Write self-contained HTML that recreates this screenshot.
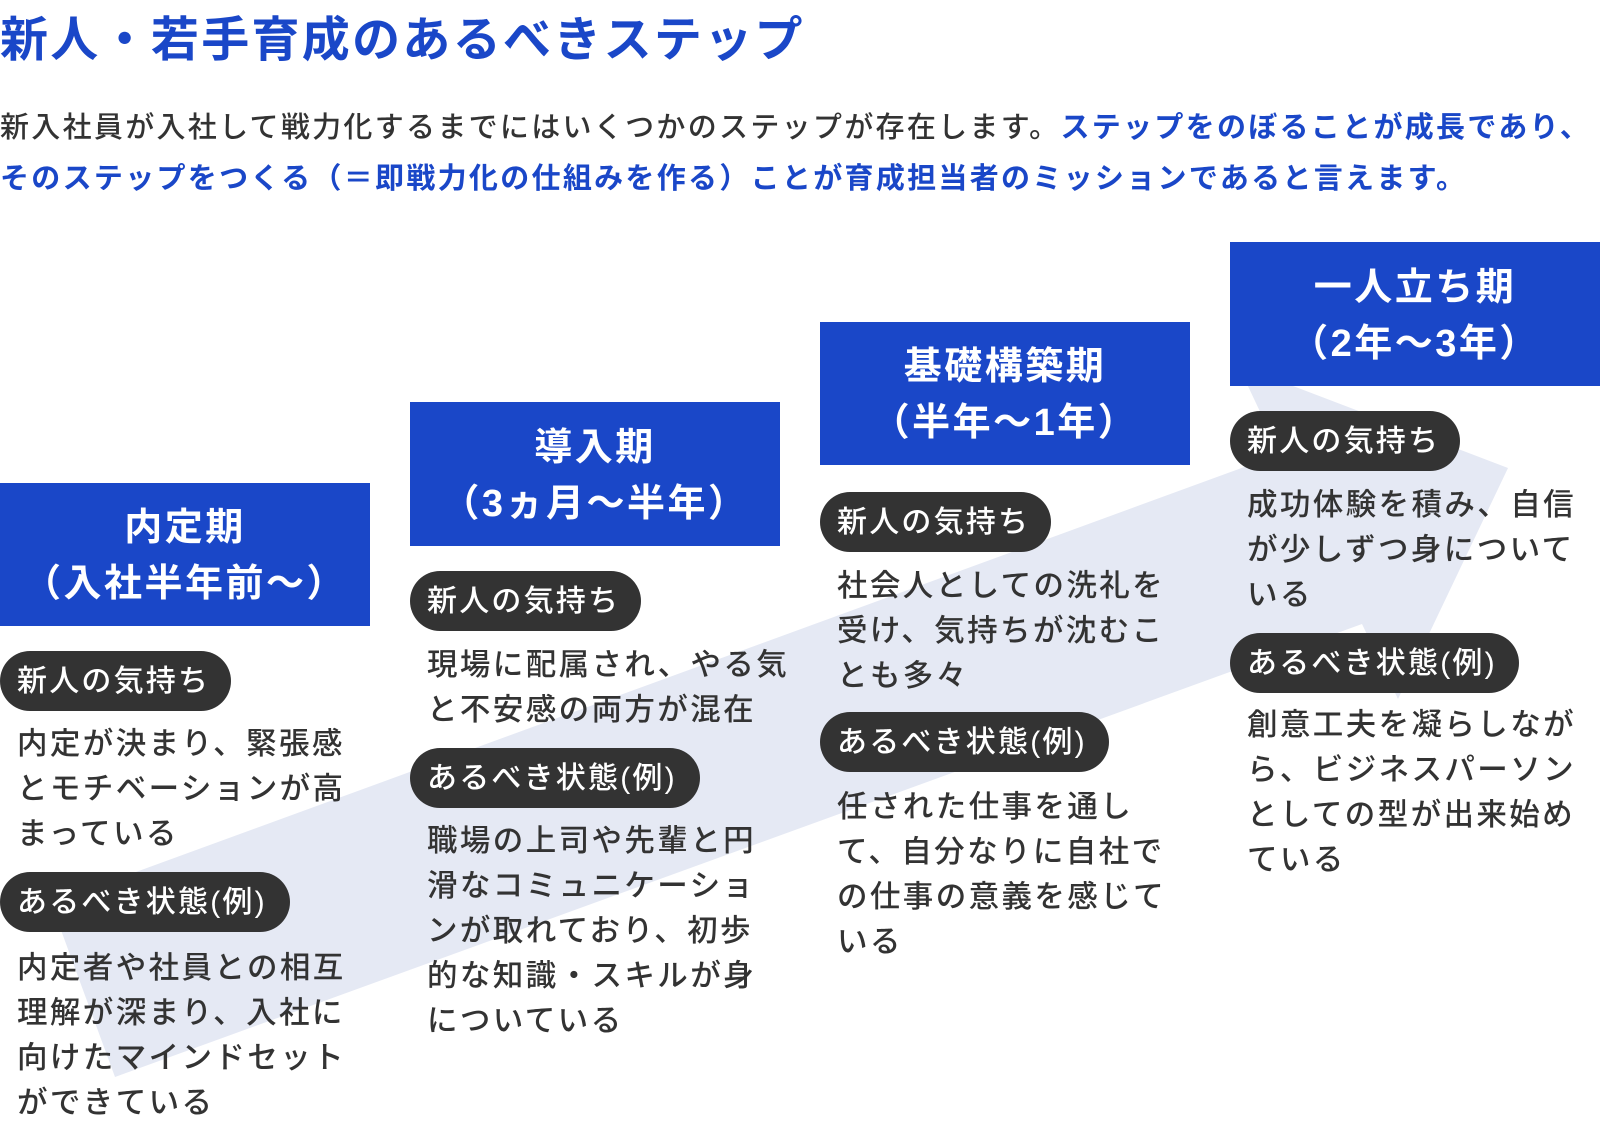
<!DOCTYPE html>
<html><head><meta charset="utf-8"><style>
*{margin:0;padding:0;box-sizing:border-box}
body{width:1600px;height:1121px;background:#fff;position:relative;overflow:hidden;font-family:"Liberation Sans","Noto Sans CJK JP",sans-serif;color:#333}
.a{position:absolute;white-space:nowrap}
h1{position:absolute;left:0;top:11px;font-size:48px;line-height:60px;color:#1a47c8;font-weight:700;letter-spacing:2.3px}
.p{left:0;font-size:29px;line-height:50px;letter-spacing:2.3px;font-weight:500}
.p b{color:#1a47c8;font-weight:700}
.box{position:absolute;background:#1a47c8;color:#fff;font-weight:700;font-size:38px;line-height:56px;text-align:center;display:flex;flex-direction:column;justify-content:center;letter-spacing:2.5px;padding-top:3px}
.pill{position:absolute;height:60px;border-radius:30px;background:#333;color:#fff;font-size:30px;line-height:62px;padding-left:17px;letter-spacing:2.2px;font-weight:500}
.t{position:absolute;font-size:30.5px;line-height:45px;letter-spacing:2.4px;white-space:nowrap;font-weight:500;color:#333}
</style></head><body>
<svg class="a" style="left:0;top:0" width="1600" height="1121"><polygon points="51,903 1280,454 1238,365 1508,468 1398,699 1362,624 115,1077" fill="#e5e9f4"/></svg>
<h1>新人・若手育成のあるべきステップ</h1>
<div class="a p" style="top:103px">新入社員が入社して戦力化するまでにはいくつかのステップが存在します。<b>ステップをのぼることが成長であり、</b></div>
<div class="a p" style="top:154px"><b>そのステップをつくる（＝即戦力化の仕組みを作る）ことが育成担当者のミッションであると言えます。</b></div>

<div class="box" style="left:0;top:483px;width:370px;height:143px"><div>内定期</div><div>（入社半年前～）</div></div>
<div class="box" style="left:410px;top:402px;width:370px;height:144px"><div>導入期</div><div>（3ヵ月～半年）</div></div>
<div class="box" style="left:820px;top:322px;width:370px;height:143px"><div>基礎構築期</div><div>（半年～1年）</div></div>
<div class="box" style="left:1230px;top:242px;width:370px;height:144px"><div>一人立ち期</div><div>（2年～3年）</div></div>

<div class="pill" style="left:0;top:651px;width:231px">新人の気持ち</div>
<div class="t" style="left:17px;top:722px">内定が決まり、緊張感<br>とモチベーションが高<br>まっている</div>
<div class="pill" style="left:0;top:872px;width:290px">あるべき状態(例)</div>
<div class="t" style="left:17px;top:946px">内定者や社員との相互<br>理解が深まり、入社に<br>向けたマインドセット<br>ができている</div>

<div class="pill" style="left:410px;top:571px;width:231px">新人の気持ち</div>
<div class="t" style="left:427px;top:643px">現場に配属され、やる気<br>と不安感の両方が混在</div>
<div class="pill" style="left:410px;top:748px;width:290px">あるべき状態(例)</div>
<div class="t" style="left:427px;top:819px">職場の上司や先輩と円<br>滑なコミュニケーショ<br>ンが取れており、初歩<br>的な知識・スキルが身<br>についている</div>

<div class="pill" style="left:820px;top:492px;width:231px">新人の気持ち</div>
<div class="t" style="left:837px;top:564px">社会人としての洗礼を<br>受け、気持ちが沈むこ<br>とも多々</div>
<div class="pill" style="left:820px;top:712px;width:289px">あるべき状態(例)</div>
<div class="t" style="left:837px;top:785px">任された仕事を通し<br>て、自分なりに自社で<br>の仕事の意義を感じて<br>いる</div>

<div class="pill" style="left:1230px;top:411px;width:230px">新人の気持ち</div>
<div class="t" style="left:1247px;top:483px">成功体験を積み、自信<br>が少しずつ身について<br>いる</div>
<div class="pill" style="left:1230px;top:633px;width:289px">あるべき状態(例)</div>
<div class="t" style="left:1247px;top:703px">創意工夫を凝らしなが<br>ら、ビジネスパーソン<br>としての型が出来始め<br>ている</div>
</body></html>
